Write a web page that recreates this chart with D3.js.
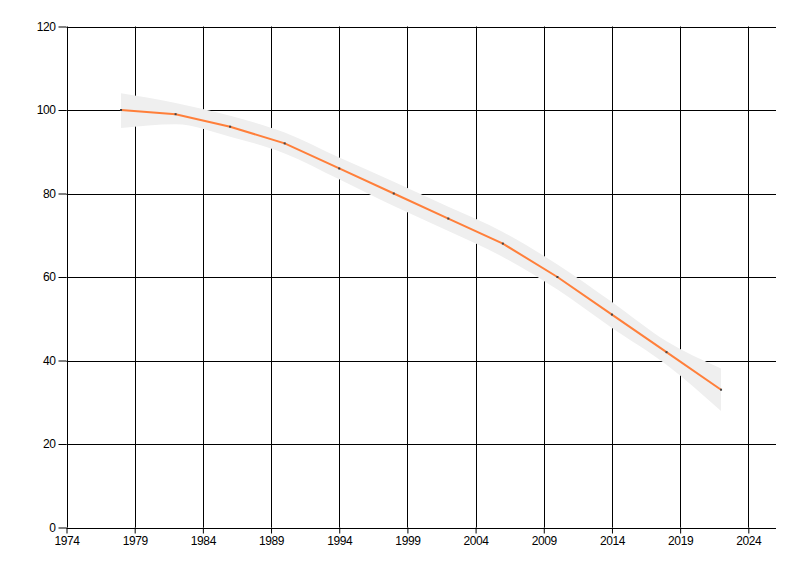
<!DOCTYPE html>
<html><head><meta charset="utf-8">
<script src="https://cdn.jsdelivr.net/npm/d3@7"></script>
<style>
body{margin:0;background:#fff;}
svg text{font-family:"Liberation Sans",Arial,sans-serif;font-size:12px;fill:#000;}
</style></head>
<body><svg id="c" width="800" height="576"></svg>
<script>
const years = [1978,1982,1986,1990,1994,1998,2002,2006,2010,2014,2018,2022];
const values = [100,99,96,92,86,80,74,68,60,51,42,33];
const upper = [104.0,101.7,98.6,94.6,88.6,82.8,76.8,70.8,63.0,54.0,44.6,38.1];
const lower = [95.7,96.6,93.6,89.6,83.4,77.0,71.0,64.8,57.0,47.8,39.0,27.9];
const xTicks = [1974,1979,1984,1989,1994,1999,2004,2009,2014,2019,2024];
const yTicks = [0,20,40,60,80,100,120];

const svg = d3.select("#c");
const x = d3.scaleLinear().domain([1974,2026.03]).range([66.5,776]);
const y = d3.scaleLinear().domain([0,120]).range([527.5,26.5]);

const grid = svg.append("g");
grid.selectAll("line.v").data(xTicks).join("line")
  .attr("x1",d=>Math.round(x(d))+0.5).attr("x2",d=>Math.round(x(d))+0.5)
  .attr("y1",y(120)).attr("y2",y(0)).attr("stroke","#000");
grid.selectAll("line.h").data(yTicks).join("line")
  .attr("x1",x(1974)).attr("x2",x(2026.03))
  .attr("y1",d=>Math.round(y(d))+0.5).attr("y2",d=>Math.round(y(d))+0.5).attr("stroke","#000");

const band = years.map((d,i)=>({x:d,u:upper[i],l:lower[i]}));
svg.append("path").datum(band)
  .attr("d", d3.area().x(d=>x(d.x)).y0(d=>y(d.l)).y1(d=>y(d.u)).curve(d3.curveMonotoneX))
  .attr("fill","#efefef");

const pts = years.map((d,i)=>({x:d,v:values[i]}));
svg.append("path").datum(pts)
  .attr("d", d3.line().x(d=>x(d.x)).y(d=>y(d.v)))
  .attr("fill","none").attr("stroke","#ff7f3a").attr("stroke-width",2);
svg.selectAll("rect.pt").data(pts).join("rect")
  .attr("x",d=>x(d.x)-1).attr("y",d=>y(d.v)-1).attr("width",2).attr("height",2)
  .attr("fill","#444");

const xAxis = d3.axisBottom(x).tickValues(xTicks).tickFormat(d3.format("d")).tickSize(6).tickSizeOuter(0);
const gx = svg.append("g").attr("transform",`translate(0,${y(0)})`).call(xAxis);
gx.select(".domain").remove();
gx.selectAll("text").attr("dy","0.71em").attr("y",9);

const yAxis = d3.axisLeft(y).tickValues(yTicks).tickSize(8).tickSizeOuter(0);
const gy = svg.append("g").attr("transform",`translate(${x(1974)},0)`).call(yAxis);
gy.select(".domain").remove();
gy.selectAll("text").attr("x",-11);
svg.selectAll(".tick text").style("font-family","'Liberation Sans',Arial,sans-serif").style("font-size","12px").style("letter-spacing","-0.4px");
</script></body></html>
